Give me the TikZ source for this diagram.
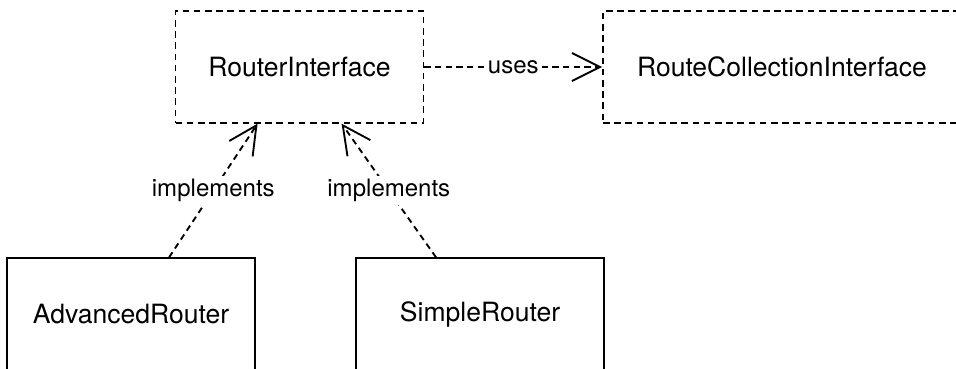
\documentclass[tikz,border=0pt]{standalone}
\usepackage{fontspec}
\setmainfont{TeX Gyre Heros}
\usetikzlibrary{arrows.meta,calc}
\begin{document}
\begin{tikzpicture}[x=0.75pt,y=-0.75pt,
  classbox/.style={draw, line width=1.4pt, minimum width=186pt, minimum height=83.5pt,
    inner sep=0pt, font=\fontsize{19.9}{24}\selectfont},
  iface/.style={classbox, dash pattern=on 5pt off 3.4pt},
  dep/.style={line width=1.4pt, dash pattern=on 4.6pt off 3.4pt,
    -{Straight Barb[length=21pt,width=21pt]}},
  lbl/.style={fill=white, inner sep=2pt, font=\fontsize{18}{22}\selectfont}]
\useasboundingbox (0,0) rectangle (956,368);
\clip (0,0) rectangle (956,368);

% interfaces
\node[iface] (ri) at (299.5,67) {RouterInterface};
\node[iface, minimum width=268.5pt] (rc) at (782,67) {RouteCollectionInterface};

% implementations
\node[classbox] (ar) at (131,314) {AdvancedRouter};
\node[classbox] (sr) at (480,314) {SimpleRouter};

% dependencies
\draw[dep] (ri.east) -- node[lbl]{uses} (rc.west);
\draw[dep] ($(ar.north west)+(163,0)$) -- node[lbl]{implements} ($(ri.south west)+(83,0)$);
\draw[dep] ($(sr.north west)+(81,0)$) -- node[lbl]{implements} ($(ri.south west)+(167,0)$);
\end{tikzpicture}
\end{document}
